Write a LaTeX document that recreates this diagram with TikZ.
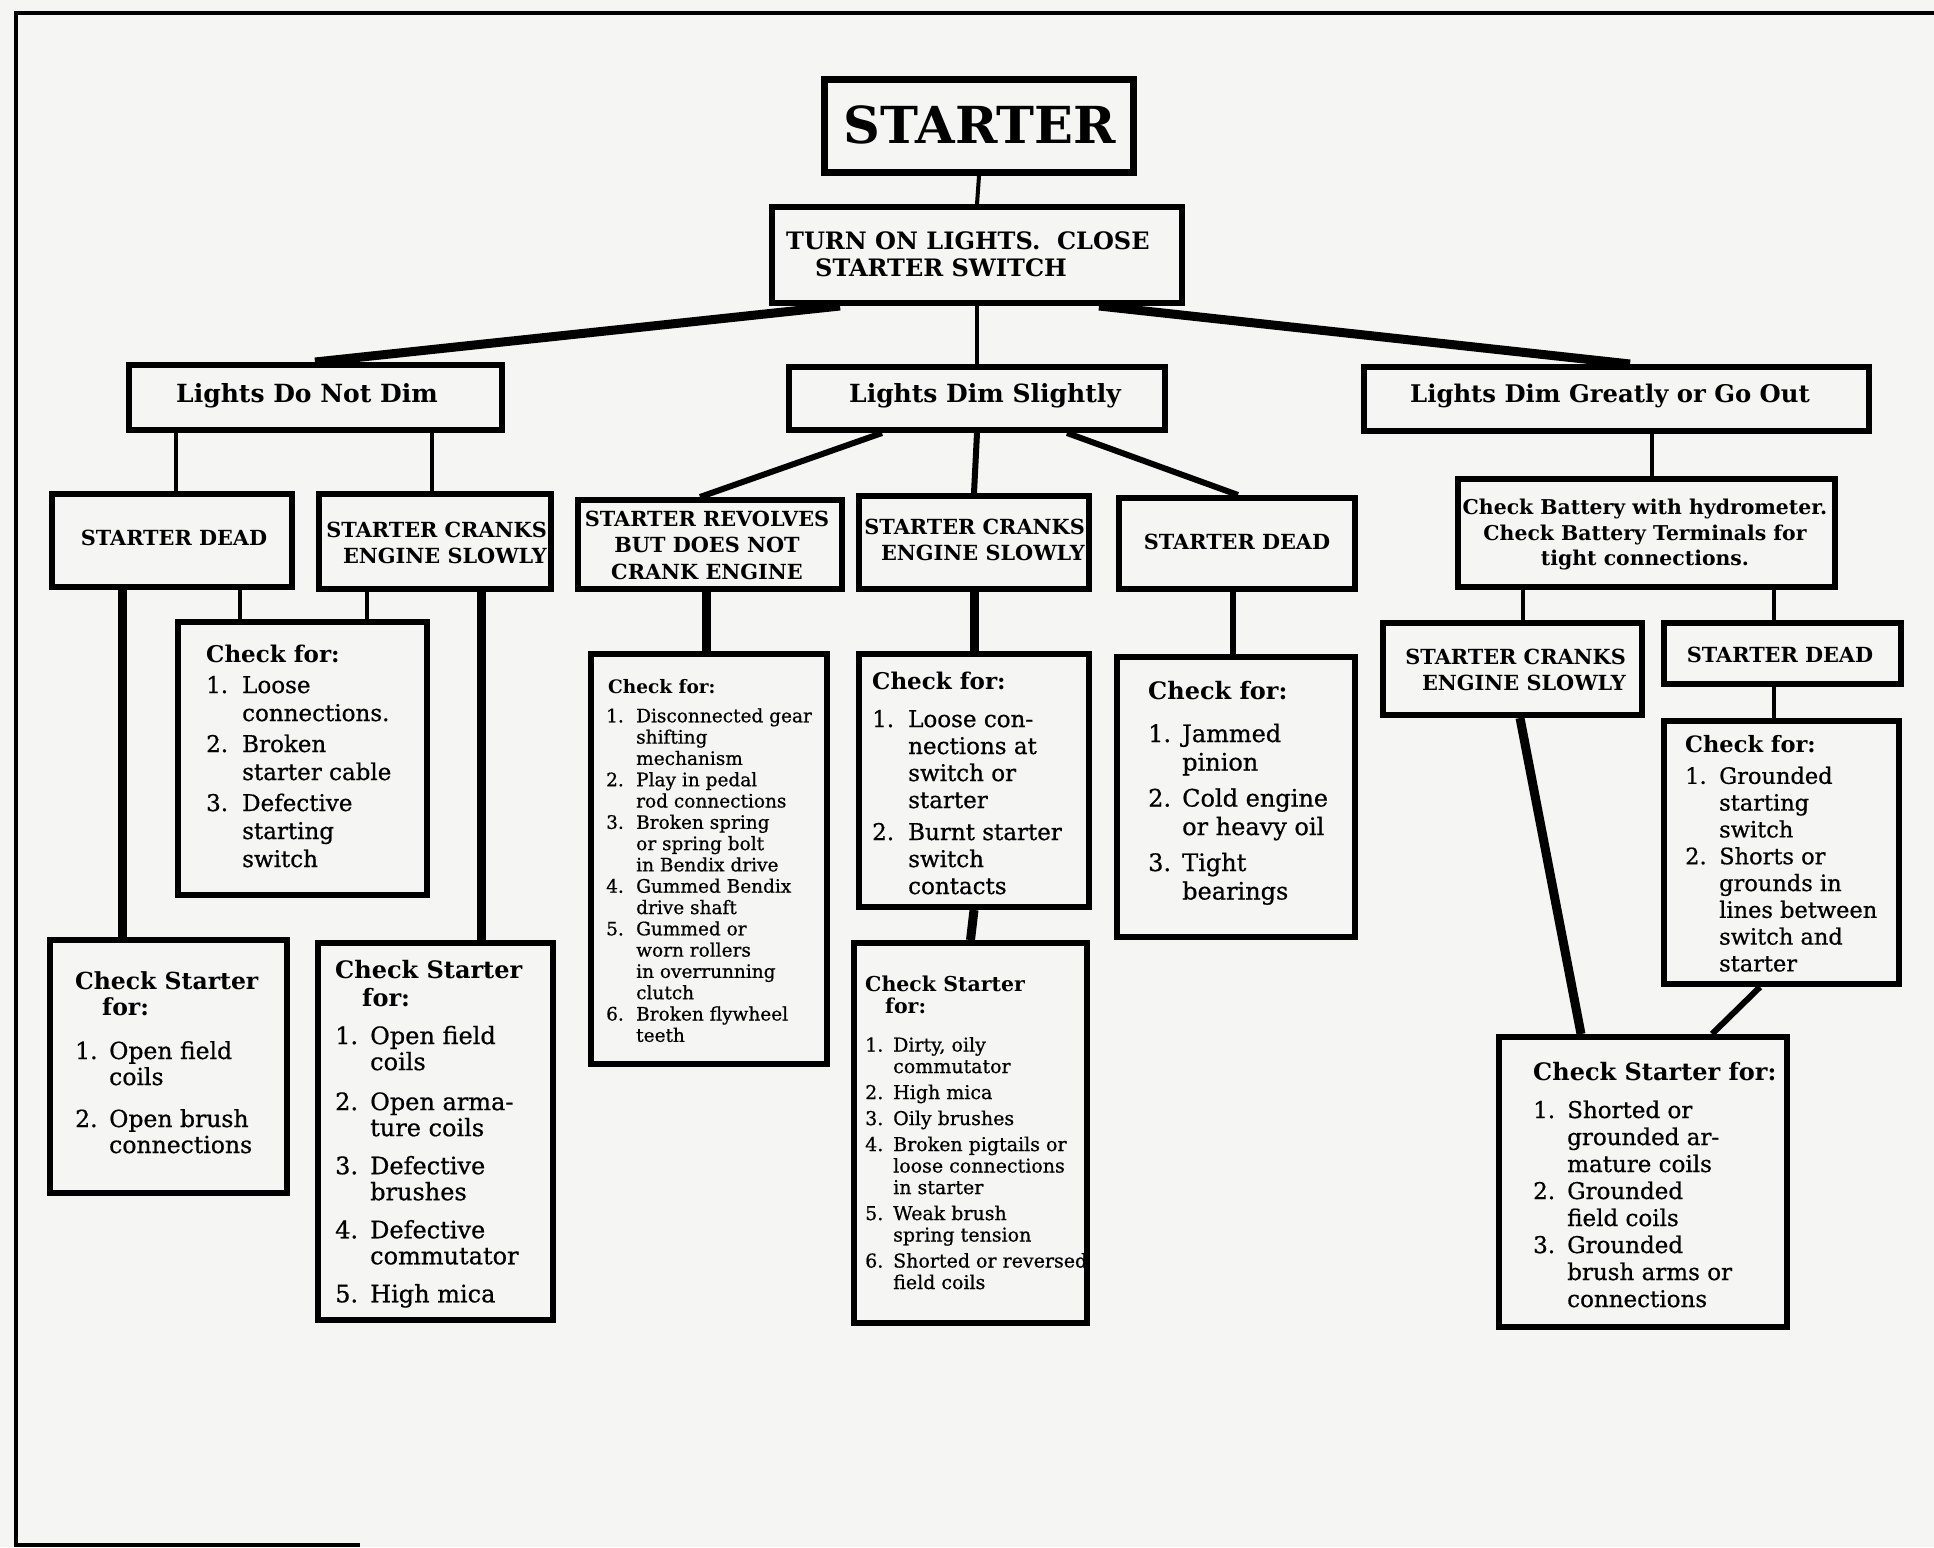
\documentclass[tikz,border=0pt]{standalone}
\usepackage{fontspec}
\setmainfont{DejaVu Serif}[UprightFeatures={FakeBold=0.7}]
\usetikzlibrary{calc}
\definecolor{paper}{RGB}{245,245,243}
\newlength\numw
\newcommand\nm[1]{\makebox[\numw][l]{#1}}
\newcommand\fs[2]{\fontsize{#1}{#2}\selectfont}
\tikzset{
  box/.style={draw=black, line width=6pt, rectangle, inner sep=0pt},
  lbl/.style={inner sep=0pt, font=\bfseries},
  capslbl/.style={inner sep=0pt, font={\fs{20.8}{26}\bfseries}},
  txt/.style={anchor=base west, inner sep=0pt},
  conthin/.style={line width=4pt},
  conmed/.style={line width=6pt},
  conthick/.style={line width=9pt},
  frameline/.style={line width=4pt}
}
\begin{document}
\begin{tikzpicture}[x=1pt,y=-1pt]
\path[use as bounding box, fill=paper] (0,0) rectangle (1934,1547);
% frame
\draw[frameline] (1934,13) -- (16,13) -- (16,1545) -- (360,1545);

% boxes
\node[box, line width=7pt, minimum width=309pt, minimum height=93pt] (start) at (979,126) {};
\node[box, minimum width=410pt, minimum height=96pt] (turn) at (977,255) {};
\node[box, minimum width=373pt, minimum height=65pt] (ldnd) at (315.5,397.5) {};
\node[box, minimum width=376pt, minimum height=63pt] (lds) at (977,398.5) {};
\node[box, minimum width=505pt, minimum height=64pt] (ldg) at (1616.5,399) {};
\node[box, minimum width=240pt, minimum height=93pt] (sd1) at (172,540.5) {};
\node[box, minimum width=232pt, minimum height=95pt] (sc1) at (435,541.5) {};
\node[box, minimum width=249pt, minimum height=273pt] (cf1) at (302.5,758.5) {};
\node[box, minimum width=237pt, minimum height=253pt] (cs1) at (168.5,1066.5) {};
\node[box, minimum width=235pt, minimum height=377pt] (cs2) at (435.5,1131.5) {};
\node[box, minimum width=264pt, minimum height=89pt] (srev) at (710,544.5) {};
\node[box, minimum width=230pt, minimum height=93pt] (sc2) at (974,542.5) {};
\node[box, minimum width=236pt, minimum height=91pt] (sd2) at (1237,543.5) {};
\node[box, minimum width=236pt, minimum height=410pt] (cf2) at (709,859) {};
\node[box, minimum width=230pt, minimum height=253pt] (cf3) at (974,780.5) {};
\node[box, minimum width=233pt, minimum height=380pt] (cs3) at (970.5,1133) {};
\node[box, minimum width=238pt, minimum height=280pt] (cf4) at (1236,797) {};
\node[box, minimum width=377pt, minimum height=108pt] (batt) at (1646.5,533) {};
\node[box, minimum width=259pt, minimum height=92pt] (sc3) at (1512.5,669) {};
\node[box, minimum width=237pt, minimum height=61pt] (sd3) at (1782.5,653.5) {};
\node[box, minimum width=235pt, minimum height=263pt] (cf5) at (1781.5,852.5) {};
\node[box, minimum width=288pt, minimum height=290pt] (cs4) at (1643,1182) {};

% connectors
\draw[conthin] (start.south) -- (turn.north);
\draw[conthick] ([xshift=71pt]turn.south west) -- ([xshift=189pt]ldnd.north west);
\draw[conthin] (turn.south) -- (lds.north);
\draw[conthick] ([xshift=330pt]turn.south west) -- ([xshift=269pt]ldg.north west);
\draw[conthin] ([xshift=50pt]ldnd.south west) -- ([xshift=127pt]sd1.north west);
\draw[conthin] ([xshift=306pt]ldnd.south west) -- ([xshift=116pt]sc1.north west);
\draw[conthin] ([xshift=191pt]sd1.south west) -- ([xshift=65pt]cf1.north west);
\draw[conthin] ([xshift=51pt]sc1.south west) -- ([xshift=192pt]cf1.north west);
\draw[conthick] ([xshift=73pt]sd1.south west) -- ([xshift=75pt]cs1.north west);
\draw[conthick] ([xshift=165pt]sc1.south west) -- ([xshift=166pt]cs2.north west);
\draw[conmed] ([xshift=96pt]lds.south west) -- ([xshift=125pt]srev.north west);
\draw[conmed] (lds.south) -- (sc2.north);
\draw[conmed] ([xshift=281pt]lds.south west) -- ([xshift=122pt]sd2.north west);
\draw[conthick] ([xshift=131pt]srev.south west) -- ([xshift=118pt]cf2.north west);
\draw[conthick] (sc2.south) -- (cf3.north);
\draw[conthick] (cf3.south) -- (cs3.north);
\draw[conmed] ([xshift=117pt]sd2.south west) -- ([xshift=119pt]cf4.north west);
\draw[conthin] ([xshift=291pt]ldg.south west) -- ([xshift=197pt]batt.north west);
\draw[conthin] ([xshift=68pt]batt.south west) -- ([xshift=143pt]sc3.north west);
\draw[conthin] ([xshift=319pt]batt.south west) -- ([xshift=113pt]sd3.north west);
\draw[conthin] ([xshift=113pt]sd3.south west) -- ([xshift=113pt]cf5.north west);
\draw[conthick] ([xshift=140pt]sc3.south west) -- ([xshift=85pt]cs4.north west);
\draw[conmed] ([xshift=99pt]cf5.south west) -- ([xshift=216pt]cs4.north west);

% labels
\node[lbl, font={\fs{51}{60}\bfseries}] (startt) at (980,125) {STARTER};
\node[lbl, anchor=west, align=left, font={\fs{24}{27}\bfseries}] (turnt) at (786,254) {TURN ON LIGHTS.\ \ CLOSE\\\hspace*{29pt}STARTER SWITCH};
\node[lbl, font={\fs{25}{30}\bfseries}] (ldndt) at (307,396) {Lights Do Not Dim};
\node[lbl, font={\fs{25}{30}\bfseries}] (ldst) at (985,396) {Lights Dim Slightly};
\node[lbl, font={\fs{24.3}{30}\bfseries}] (ldgt) at (1610,396) {Lights Dim Greatly or Go Out};
\node[capslbl] (sd1t) at (174,538) {STARTER DEAD};
\node[capslbl, anchor=east, align=right] (sc1t) at (547,543) {STARTER CRANKS\\ENGINE SLOWLY};
\node[capslbl, align=center, font={\fs{20.8}{26.5}\bfseries}] (srevt) at (707,545) {STARTER REVOLVES\\BUT DOES NOT\\CRANK ENGINE};
\node[capslbl, anchor=east, align=right] (sc2t) at (1085,540) {STARTER CRANKS\\ENGINE SLOWLY};
\node[capslbl] (sd2t) at (1237,542) {STARTER DEAD};
\node[lbl, align=center, font={\fs{20.4}{25.5}\bfseries}] (battt) at (1645,535) {Check Battery with hydrometer.\\Check Battery Terminals for\\tight connections.};
\node[capslbl, anchor=east, align=right] (sc3t) at (1626,670) {STARTER CRANKS\\ENGINE SLOWLY};
\node[capslbl] (sd3t) at (1780,655) {STARTER DEAD};

% lists
\node[txt] (cf1t) at (206,662) {\fs{23}{28}\setlength\numw{36pt}%
\begin{tabular}[t]{@{}l@{}}
\textbf{Check for:}\\[3pt]
\nm{1.}Loose\\
\nm{}connections.\\[3pt]
\nm{2.}Broken\\
\nm{}starter cable\\[3pt]
\nm{3.}Defective\\
\nm{}starting\\
\nm{}switch
\end{tabular}};

\node[txt] (cs1t) at (75,989) {\fs{23.5}{26}\setlength\numw{34pt}%
\begin{tabular}[t]{@{}l@{}}
\textbf{Check Starter}\\
\hspace*{27pt}\textbf{for:}\\[18pt]
\nm{1.}Open field\\
\nm{}coils\\[16pt]
\nm{2.}Open brush\\
\nm{}connections
\end{tabular}};

\node[txt] (cs2t) at (335,978) {\fs{24}{26}\setlength\numw{35pt}%
\begin{tabular}[t]{@{}l@{}}
\textbf{Check Starter}\\[2pt]
\hspace*{27pt}\textbf{for:}\\[12pt]
\nm{1.}Open field\\
\nm{}coils\\[14pt]
\nm{2.}Open arma-\\
\nm{}ture coils\\[12pt]
\nm{3.}Defective\\
\nm{}brushes\\[12pt]
\nm{4.}Defective\\
\nm{}commutator\\[12pt]
\nm{5.}High mica
\end{tabular}};

\node[txt] (cf2t) at (606,693) {\fs{18.5}{21.3}\setlength\numw{30pt}%
\begin{tabular}[t]{@{}l@{}}
\hspace*{2pt}\textbf{Check for:}\\[8pt]
\nm{1.}Disconnected gear\\
\nm{}shifting\\
\nm{}mechanism\\
\nm{2.}Play in pedal\\
\nm{}rod connections\\
\nm{3.}Broken spring\\
\nm{}or spring bolt\\
\nm{}in Bendix drive\\
\nm{4.}Gummed Bendix\\
\nm{}drive shaft\\
\nm{5.}Gummed or\\
\nm{}worn rollers\\
\nm{}in overrunning\\
\nm{}clutch\\
\nm{6.}Broken flywheel\\
\nm{}teeth
\end{tabular}};

\node[txt] (cf3t) at (872,689) {\fs{23}{27}\setlength\numw{36pt}%
\begin{tabular}[t]{@{}l@{}}
\textbf{Check for:}\\[11pt]
\nm{1.}Loose con-\\
\nm{}nections at\\
\nm{}switch or\\
\nm{}starter\\[5pt]
\nm{2.}Burnt starter\\
\nm{}switch\\
\nm{}contacts
\end{tabular}};

\node[txt] (cs3t) at (865,991) {\fs{19}{21.5}\setlength\numw{28pt}%
\begin{tabular}[t]{@{}l@{}}
\textbf{\fs{20.5}{21.5}Check Starter}\\[0.5pt]
\hspace*{20pt}\textbf{\fs{20.5}{21.5}for:}\\[16.5pt]
\nm{1.}Dirty, oily\\
\nm{}commutator\\[4.5pt]
\nm{2.}High mica\\[4.5pt]
\nm{3.}Oily brushes\\[4.5pt]
\nm{4.}Broken pigtails or\\
\nm{}loose connections\\
\nm{}in starter\\[4.5pt]
\nm{5.}Weak brush\\
\nm{}spring tension\\[4.5pt]
\nm{6.}Shorted or reversed\\
\nm{}field coils
\end{tabular}};

\node[txt] (cf4t) at (1148,699) {\fs{24}{28.5}\setlength\numw{34pt}%
\begin{tabular}[t]{@{}l@{}}
\textbf{Check for:}\\[14.5pt]
\nm{1.}Jammed\\
\nm{}pinion\\[7.5pt]
\nm{2.}Cold engine\\
\nm{}or heavy oil\\[7.5pt]
\nm{3.}Tight\\
\nm{}bearings
\end{tabular}};

\node[txt] (cf5t) at (1685,752) {\fs{22.5}{26.8}\setlength\numw{34pt}%
\begin{tabular}[t]{@{}l@{}}
\textbf{Check for:}\\[5pt]
\nm{1.}Grounded\\
\nm{}starting\\
\nm{}switch\\
\nm{2.}Shorts or\\
\nm{}grounds in\\
\nm{}lines between\\
\nm{}switch and\\
\nm{}starter
\end{tabular}};

\node[txt] (cs4t) at (1533,1080) {\fs{23}{27}\setlength\numw{34pt}%
\begin{tabular}[t]{@{}l@{}}
\textbf{\fs{24}{27}Check Starter for:}\\[11pt]
\nm{1.}Shorted or\\
\nm{}grounded ar-\\
\nm{}mature coils\\
\nm{2.}Grounded\\
\nm{}field coils\\
\nm{3.}Grounded\\
\nm{}brush arms or\\
\nm{}connections
\end{tabular}};
\end{tikzpicture}
\end{document}
